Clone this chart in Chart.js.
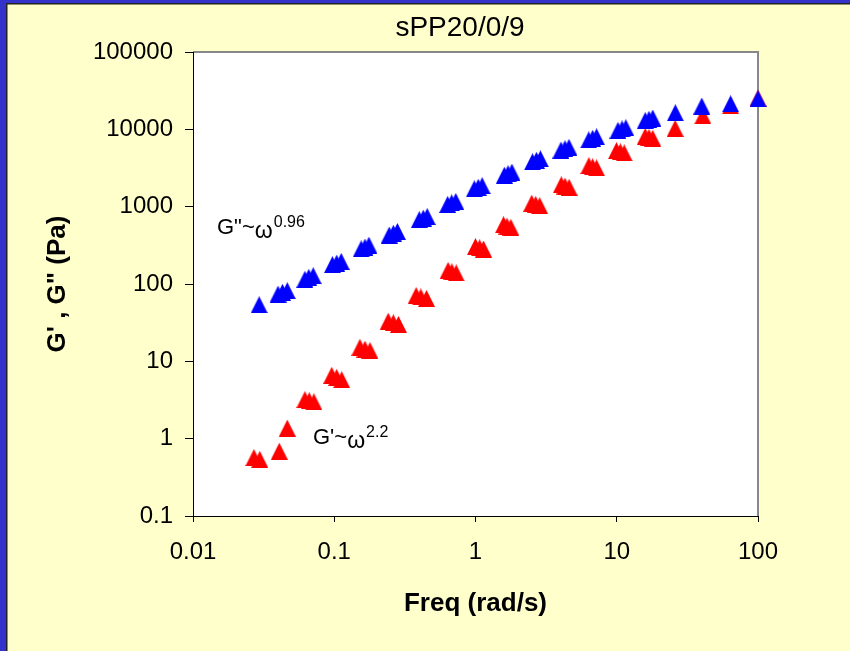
<!DOCTYPE html>
<html>
<head>
<meta charset="utf-8">
<script src="https://cdn.jsdelivr.net/npm/chart.js@4.4.1/dist/chart.umd.min.js"></script>
<style>
  html, body { margin: 0; padding: 0; overflow: hidden; }
  #wrap { width: 850px; height: 651px; }
</style>
</head>
<body>
<div id="wrap"><canvas id="rheoChart"></canvas></div>
<script>
// loss modulus G" (blue), three repeat sweeps per frequency step
const freqLoss = [0.0294, 0.040, 0.043, 0.0465, 0.062, 0.066, 0.071, 0.097, 0.104, 0.112,
  0.155, 0.165, 0.176, 0.245, 0.262, 0.28, 0.40, 0.427, 0.455, 0.635, 0.678, 0.725,
  0.98, 1.045, 1.115, 1.6, 1.7, 1.81, 2.53, 2.7, 2.88, 4.03, 4.3, 4.59,
  6.33, 6.75, 7.2, 10.2, 10.9, 11.6, 15.9, 16.9, 18.0, 26, 40, 64, 100];
const lossModulus = [54, 74, 78, 82, 115, 122, 128, 178, 186, 196,
  285, 300, 318, 430, 452, 478, 680, 710, 745, 1070, 1120, 1170,
  1700, 1780, 1870, 2550, 2670, 2800, 3800, 3970, 4150, 5400, 5610, 5850,
  7300, 7640, 8000, 9700, 10100, 10500, 13000, 13500, 14000, 16400, 20000, 21400, 24900];

// storage modulus G' (red)
const freqStorage = [0.027, 0.0297, 0.0408, 0.0465, 0.062, 0.0665, 0.0718, 0.096, 0.104, 0.113,
  0.152, 0.165, 0.179, 0.241, 0.262, 0.285, 0.38, 0.41, 0.45, 0.64, 0.68, 0.73,
  1.0, 1.07, 1.14, 1.58, 1.67, 1.78, 2.5, 2.67, 2.85, 4.05, 4.3, 4.6,
  6.35, 6.75, 7.2, 9.95, 10.6, 11.3, 15.9, 16.9, 18.0, 25.9, 40.7, 64, 100];
const storageModulus = [0.57, 0.54, 0.69, 1.37, 3.2, 3.1, 3.0, 6.6, 6.2, 5.8,
  15.2, 14.4, 13.8, 33, 31.5, 30, 71, 68, 65, 150, 144, 139,
  305, 294, 283, 585, 561, 540, 1110, 1070, 1030, 1920, 1850, 1780,
  3400, 3280, 3170, 5300, 5130, 4950, 8100, 7870, 7650, 10300, 15000, 20200, 25200];

const freqTicks = [0.01, 0.1, 1, 10, 100];
const modulusTicks = [0.1, 1, 10, 100, 1000, 10000, 100000];

const chartTitle = 'sPP20/0/9';
const xTitle = 'Freq (rad/s)';
const yTitle = 'G\' , G" (Pa)';

const FONT = '"Liberation Sans", Arial, sans-serif';

// filled triangle used as point marker, centred on the data point
function triangleMarker(color) {
  const c = document.createElement('canvas');
  c.width = 17;
  c.height = 17;
  const g = c.getContext('2d');
  g.fillStyle = color;
  g.beginPath();
  g.moveTo(8.5, 0);
  g.lineTo(17, 17);
  g.lineTo(0, 17);
  g.closePath();
  g.fill();
  return c;
}

function toPoints(xs, ys) {
  return xs.map((x, i) => ({ x: x, y: ys[i] }));
}

// "G~ω^n" label with lowered omega and superscript exponent
function powerLaw(ctx, x, y, base, exponent) {
  ctx.font = '22px ' + FONT;
  ctx.fillText(base, x, y);
  let cx = x + ctx.measureText(base).width;
  ctx.font = '23px ' + FONT;
  ctx.fillText('\u03c9', cx, y + 4);
  cx += ctx.measureText('\u03c9').width + 1;
  ctx.font = '16px ' + FONT;
  ctx.fillText(exponent, cx, y - 7);
}

const backdrop = {
  id: 'backdrop',
  beforeDraw(chart) {
    const { ctx, width, height, chartArea: a } = chart;
    ctx.save();
    ctx.fillStyle = '#FFFFCC';
    ctx.fillRect(0, 0, width, height);
    ctx.fillStyle = '#3333CC';
    ctx.fillRect(0, 0, 6, height);
    ctx.fillRect(0, 0, width, 3);
    ctx.fillStyle = '#222';
    ctx.fillRect(6, 3, 1.5, height);
    ctx.fillRect(6, 3, width, 1.5);
    ctx.fillStyle = '#fff';
    ctx.fillRect(a.left, a.top, a.right - a.left, a.bottom - a.top);
    ctx.strokeStyle = '#888';
    ctx.lineWidth = 2;
    ctx.beginPath();
    ctx.moveTo(a.left, a.top);
    ctx.lineTo(a.right, a.top);
    ctx.lineTo(a.right, a.bottom);
    ctx.stroke();

    ctx.fillStyle = '#000';
    ctx.font = '28px ' + FONT;
    ctx.textAlign = 'center';
    ctx.textBaseline = 'alphabetic';
    ctx.fillText(chartTitle, 460, 36);
    ctx.restore();
  },
  afterDatasetsDraw(chart) {
    const ctx = chart.ctx;
    ctx.save();
    ctx.fillStyle = '#000';
    ctx.textAlign = 'left';
    ctx.textBaseline = 'alphabetic';
    powerLaw(ctx, 217, 234, 'G"~', '0.96');
    powerLaw(ctx, 313, 444, "G'~", '2.2');
    ctx.restore();
  }
};

new Chart(document.getElementById('rheoChart'), {
  type: 'scatter',
  data: {
    datasets: [
      {
        label: 'G"',
        data: toPoints(freqLoss, lossModulus),
        pointStyle: triangleMarker('#0000FF'),
        pointRadius: 8,
        showLine: false,
        clip: false
      },
      {
        label: "G'",
        data: toPoints(freqStorage, storageModulus),
        pointStyle: triangleMarker('#FF0000'),
        pointRadius: 8,
        showLine: false,
        clip: false
      }
    ]
  },
  options: {
    responsive: true,
    maintainAspectRatio: false,
    animation: false,
    events: [],
    layout: { padding: { top: 52, right: 92, left: 0, bottom: 0 } },
    plugins: {
      legend: { display: false },
      tooltip: { enabled: false }
    },
    scales: {
      x: {
        type: 'logarithmic',
        min: 0.01,
        max: 100,
        afterBuildTicks: s => { s.ticks = freqTicks.map(v => ({ value: v })); },
        afterFit: s => { s.height = 135; },
        border: { color: '#000', width: 1 },
        grid: { drawOnChartArea: false, tickLength: 6, tickColor: '#000' },
        ticks: {
          color: '#000',
          font: { family: FONT, size: 24 },
          padding: 16,
          maxRotation: 0,
          autoSkip: false,
          callback: v => String(v)
        },
        title: {
          display: true,
          text: xTitle,
          color: '#000',
          font: { family: FONT, size: 26, weight: 'bold' },
          padding: { top: 0, bottom: 32 }
        }
      },
      y: {
        type: 'logarithmic',
        min: 0.1,
        max: 100000,
        afterBuildTicks: s => { s.ticks = modulusTicks.map(v => ({ value: v })); },
        afterFit: s => { s.width = 193; },
        border: { color: '#000', width: 1 },
        grid: { drawOnChartArea: false, tickLength: 8, tickColor: '#000' },
        ticks: {
          color: '#000',
          font: { family: FONT, size: 24 },
          padding: 12,
          autoSkip: false,
          callback: v => String(v)
        },
        title: {
          display: true,
          text: yTitle,
          color: '#000',
          font: { family: FONT, size: 26, weight: 'bold' },
          padding: { top: 42, bottom: 0 }
        }
      }
    }
  },
  plugins: [backdrop]
});
</script>
</body>
</html>
